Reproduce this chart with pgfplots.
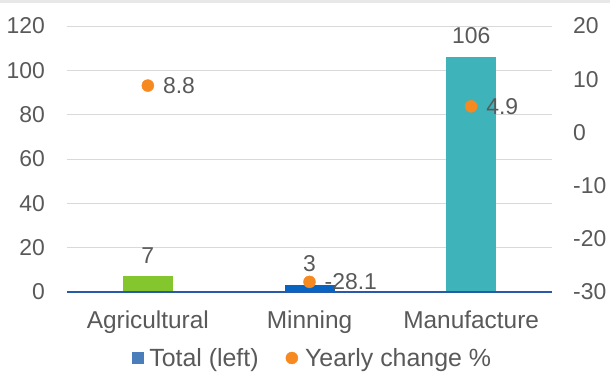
\documentclass[border=0pt]{standalone}
\usepackage{fontspec}
\setmainfont{Liberation Sans}
\usepackage{pgfplots}
\pgfplotsset{compat=1.18}

\definecolor{txt}{RGB}{89,89,89}
\definecolor{gridgray}{RGB}{217,217,217}
\definecolor{axisblue}{RGB}{40,90,170}
\definecolor{agri}{RGB}{132,198,46}
\definecolor{mine}{RGB}{8,100,192}
\definecolor{manu}{RGB}{62,179,185}
\definecolor{legblue}{RGB}{74,126,187}
\definecolor{chg}{RGB}{246,137,32}

\newcommand{\lblfont}{\fontsize{24.5}{28}\selectfont}
\newcommand{\legfont}{\fontsize{25}{29}\selectfont}
\newcommand{\numfont}{\fontsize{23}{27}\selectfont}

\begin{document}
\begin{tikzpicture}
% page frame: 610 x 374, axis box starts at (67,82) from the lower left
\path[use as bounding box] (-67bp,-82bp) rectangle (543bp,292bp);
\fill[gray!18] (-67bp,289bp) rectangle (543bp,292bp);

% left axis: totals as bars
\begin{axis}[
  at={(0,0)}, anchor=south west,
  scale only axis, width=485bp, height=266bp,
  xmin=-0.5, xmax=2.5, ymin=0, ymax=120,
  xtick={0,1,2}, xticklabels={Agricultural,Minning,Manufacture},
  ytick={0,20,40,60,80,100,120},
  yticklabels={0,20,40,60,80,100,120},
  axis x line*=bottom, axis y line*=left,
  y axis line style={draw=none},
  x axis line style={draw=axisblue, line width=1.3bp, -},
  major tick length=0pt,
  ymajorgrids, grid style={gridgray, line width=0.9bp},
  xticklabel style={font=\lblfont, text=txt, anchor=north, inner sep=0pt, yshift=-19bp},
  yticklabel style={font=\numfont, text=txt, anchor=east, inner sep=0pt, xshift=-22bp},
  legend columns=2,
  legend style={draw=none, fill=none, font=\legfont, text=txt,
    at={(0.5,0)}, anchor=center, xshift=2bp, yshift=-66bp,
    /tikz/every even column/.append style={column sep=27bp},
    nodes={inner sep=0pt, text=txt}},
  legend cell align=left,
  clip=false,
]
\addlegendimage{legend image code/.code={\fill[legblue] (0bp,-5.5bp) rectangle (11bp,5.5bp); \path (17bp,0);}}
\addlegendentry{Total (left)}
\addlegendimage{legend image code/.code={\fill[chg] (6bp,0bp) circle (6bp); \path (19bp,0);}}
\addlegendentry{Yearly change \%}

\addplot[ybar, bar width=50bp, bar shift=0pt, fill=agri, draw=none,
  point meta=explicit symbolic, nodes near coords,
  every node near coord/.style={font=\numfont, text=txt, anchor=south, inner sep=0pt, yshift=13bp},
  forget plot] coordinates {(0,7) [7]};
\addplot[ybar, bar width=50bp, bar shift=0pt, fill=mine, draw=none,
  point meta=explicit symbolic, nodes near coords,
  every node near coord/.style={font=\numfont, text=txt, anchor=south, inner sep=0pt, yshift=13bp},
  forget plot] coordinates {(1,3) [3]};
\addplot[ybar, bar width=50bp, bar shift=0pt, fill=manu, draw=none,
  point meta=explicit symbolic, nodes near coords,
  every node near coord/.style={font=\numfont, text=txt, anchor=south, inner sep=0pt, yshift=13bp},
  forget plot] coordinates {(2,106) [106]};
% baseline redrawn over the bars
\draw[axisblue, line width=1.3bp] (axis cs:-0.5,0) -- (axis cs:2.5,0);
\end{axis}

% right axis: yearly change in percent
\begin{axis}[
  at={(0,0)}, anchor=south west,
  scale only axis, width=485bp, height=266bp,
  xmin=-0.5, xmax=2.5, ymin=-30, ymax=20,
  axis y line*=right, axis x line=none,
  y axis line style={draw=none},
  major tick length=0pt,
  ytick={-30,-20,-10,0,10,20},
  yticklabels={-30,-20,-10,0,10,20},
  yticklabel style={font=\numfont, text=txt, anchor=west, inner sep=0pt, xshift=21bp},
  clip=false,
]
\addplot[only marks, mark=*, mark size=6bp, color=chg,
  point meta=explicit symbolic, nodes near coords,
  every node near coord/.style={font=\numfont, text=txt, anchor=west, inner sep=0pt, xshift=15bp}]
  coordinates {(0,8.8) [8.8] (1,-28.1) [-28.1] (2,4.9) [4.9]};
\end{axis}
\end{tikzpicture}
\end{document}
